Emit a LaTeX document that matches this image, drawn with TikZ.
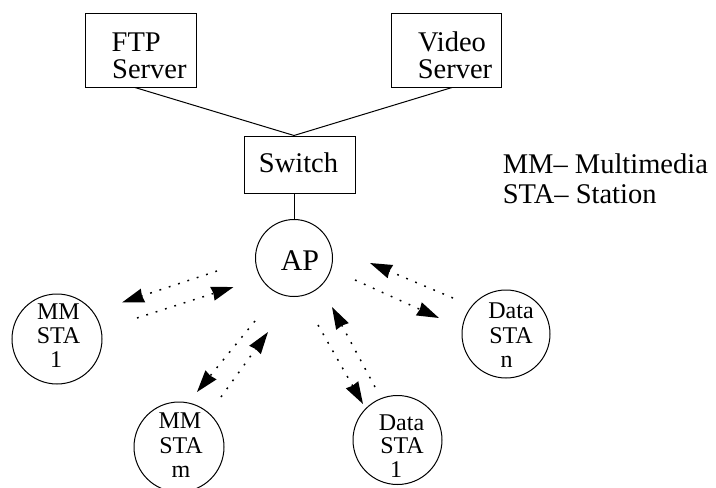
\documentclass[tikz,border=0pt]{standalone}
\usepackage{fontspec}
\setmainfont{Liberation Serif}
\usetikzlibrary{arrows.meta}
\begin{document}
\begin{tikzpicture}[x=1pt,y=-1pt,
  box/.style={draw, line width=1pt, inner sep=0pt},
  stn/.style={draw, circle, line width=1pt, inner sep=0pt},
  big/.style={font=\fontsize{28.5}{28.5}\selectfont, inner sep=0pt},
  small/.style={font=\fontsize{24}{24}\selectfont, inner sep=0pt},
  link/.style={line width=1pt},
  flow/.style={line width=1.5pt, dash pattern=on 1.8pt off 8pt,
               -{Stealth[length=22pt,width=14pt,inset=1pt]}}
]
\useasboundingbox (0,0) rectangle (716,488);

% servers and switch
\node[box, minimum width=111pt, minimum height=74pt] (ftp) at (140.5,50) {};
\node[big, anchor=base west] (ftp1) at (111.5,51) {FTP};
\node[big, anchor=base west] (ftp2) at (112,78.5) {Server};

\node[box, minimum width=110pt, minimum height=74pt] (video) at (446,50) {};
\node[big, anchor=base] (vid1) at (452,51) {Video};
\node[big, anchor=base] (vid2) at (455,78.5) {Server};

\node[box, minimum width=111pt, minimum height=57pt] (switch) at (299.5,164.5) {};
\node[big, anchor=base] (sw1) at (298.5,172) {Switch};

% access point and stations
\node[stn, minimum size=77pt] (ap) at (294,258) {};
\node[big, font=\fontsize{30}{30}\selectfont, anchor=base] (ap1) at (300,270) {AP};

\node[stn, minimum size=90pt] (mm1) at (57,339) {};
\node[small, anchor=base] (mm1a) at (58.5,319) {MM};
\node[small, anchor=base] (mm1b) at (58.5,343) {STA};
\node[small, anchor=base] (mm1c) at (56,367) {1};

\node[stn, minimum size=90pt] (mmm) at (179,447) {};
\node[small, anchor=base] (mmma) at (180,428) {MM};
\node[small, anchor=base] (mmmb) at (181,453) {STA};
\node[small, anchor=base] (mmmc) at (181,477) {m};

\node[stn, minimum size=89pt] (d1) at (397.5,440) {};
\node[small, anchor=base] (d1a) at (401.5,430) {Data};
\node[small, anchor=base] (d1b) at (402,453) {STA};
\node[small, anchor=base] (d1c) at (396,477) {1};

\node[stn, minimum size=88pt] (dn) at (506,334) {};
\node[small, anchor=base] (dna) at (511,318) {Data};
\node[small, anchor=base] (dnb) at (511,343) {STA};
\node[small, anchor=base] (dnc) at (506.7,367) {n};

% legend
\node[big, anchor=base west] (leg1) at (502.7,173) {MM– Multimedia};
\node[big, anchor=base west] (leg2) at (502.7,203) {STA– Station};

% wired links
\draw[link] ([xshift=-5.5pt]ftp.south) -- (ap |- switch.north);
\draw[link] ([xshift=6pt]video.south) -- (ap |- switch.north);
\draw[link] (ap |- switch.south) -- (ap.north);

% wireless traffic end points
\coordinate (a1s) at (217,271); \coordinate (a1e) at (122,302.5);
\coordinate (a2s) at (137,318); \coordinate (a2e) at (233.5,287);
\coordinate (b1s) at (255,321); \coordinate (b1e) at (197,392);
\coordinate (b2s) at (221,397); \coordinate (b2e) at (268,332);
\coordinate (c1s) at (318,325); \coordinate (c1e) at (363,404);
\coordinate (c2s) at (375,387); \coordinate (c2e) at (332,307);
\coordinate (e1s) at (453,298); \coordinate (e1e) at (370,263);
\coordinate (e2s) at (355,280); \coordinate (e2e) at (439,318);

\draw[flow] (a1s) -- (a1e);
\draw[flow] (a2s) -- (a2e);
\draw[flow] (b1s) -- (b1e);
\draw[flow] (b2s) -- (b2e);
\draw[flow] (c1s) -- (c1e);
\draw[flow] (c2s) -- (c2e);
\draw[flow] (e1s) -- (e1e);
\draw[flow] (e2s) -- (e2e);
\end{tikzpicture}
\end{document}
